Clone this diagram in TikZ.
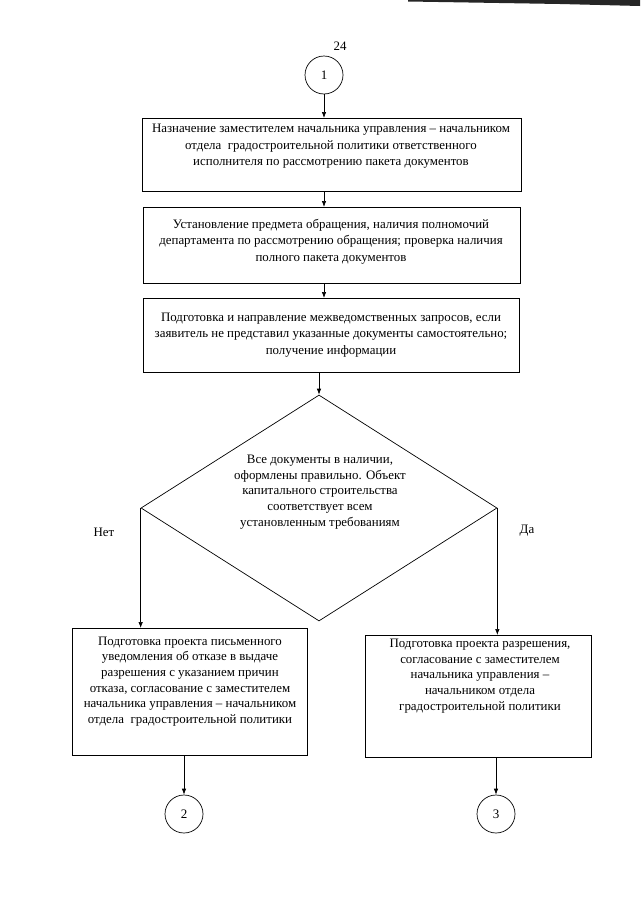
\documentclass[tikz,border=0pt]{standalone}
\usepackage{fontspec}
\setmainfont{Liberation Serif}
\usetikzlibrary{arrows.meta,shapes.geometric}
\begin{document}
\begin{tikzpicture}[x=1pt,y=-1pt,
  box/.style={draw, line width=0.8pt, inner sep=0pt, anchor=north west},
  txt/.style={align=center, font=\fontsize{12.9}{16.5}\selectfont, inner sep=0pt},
  txtb/.style={align=center, font=\fontsize{12.9}{15.6}\selectfont, inner sep=0pt},
  conn/.style={line width=0.7pt},
  arr/.style={conn, -{Latex[length=6pt,width=4.5pt]}},
  circ/.style={draw, circle, minimum size=38pt, inner sep=0pt, line width=0.7pt, font=\fontsize{13}{15}\selectfont},
  lbl/.style={inner sep=0pt, font=\fontsize{12.9}{15}\selectfont}]
\useasboundingbox[fill=white] (0,0) rectangle (640,905);
% scan bar at top right
\fill[black!85] (408,0) -- (640,0) -- (640,6) -- (560,4) -- (408,1.5) -- cycle;
\node[lbl] (pg) at (340,46) {24};
\node[circ] (c1) at (324,75) {1};
% boxes
\node[box, minimum width=379pt, minimum height=73pt] (b1) at (142,118) {};
\node[txt] (t1) at (331,146.5) {Назначение заместителем начальника управления -- начальником\\отдела\ \ градостроительной политики ответственного\\исполнителя по рассмотрению пакета документов};
\node[box, minimum width=377pt, minimum height=76pt] (b2) at (143,207) {};
\node[txt] (t2) at (331,241.5) {Установление предмета обращения, наличия полномочий\\департамента по рассмотрению обращения; проверка наличия\\полного пакета документов};
\node[box, minimum width=376pt, minimum height=74pt] (b3) at (143,298) {};
\node[txt] (t3) at (331,335) {Подготовка и направление межведомственных запросов, если\\заявитель не представил указанные документы самостоятельно;\\получение информации};
% decision
\node[draw, diamond, line width=0.7pt, minimum width=356pt, minimum height=226pt, inner sep=0pt] (d) at (319,508) {};
\node[txtb] (td) at (320,492) {Все документы в наличии,\\оформлены правильно. Объект\\капитального строительства\\соответствует всем\\установленным требованиям};
\node[lbl] (no) at (104,532) {Нет};
\node[lbl] (yes) at (527,531) {Да};
% result boxes
\node[box, minimum width=235pt, minimum height=127pt] (lb) at (72,628) {};
\node[txtb] (tl) at (190,681.5) {Подготовка проекта письменного\\уведомления об отказе в выдаче\\разрешения с указанием причин\\отказа, согласование с заместителем\\начальника управления -- начальником\\отдела\ \ градостроительной политики};
\node[box, minimum width=226pt, minimum height=122pt] (rb) at (365,635) {};
\node[txtb] (tr) at (480,676) {Подготовка проекта разрешения,\\согласование с заместителем\\начальника управления --\\начальником отдела\\градостроительной политики};
\node[circ] (c2) at (184,814) {2};
\node[circ] (c3) at (496,814) {3};
% connectors
\draw[arr] (c1.south) -- (c1.south |- b1.north);
\draw[arr] (b1.south -| c1) -- (b2.north -| c1);
\draw[arr] (b2.south -| c1) -- (b3.north -| c1);
\draw[arr] (b3.south -| d.north) -- (d.north);
\draw[arr] (d.west) -- (d.west |- lb.north);
\draw[arr] (d.east) -- (d.east |- rb.north);
\draw[arr] (lb.south -| c2) -- (c2.north);
\draw[arr] (rb.south -| c3) -- (c3.north);
\end{tikzpicture}
\end{document}
